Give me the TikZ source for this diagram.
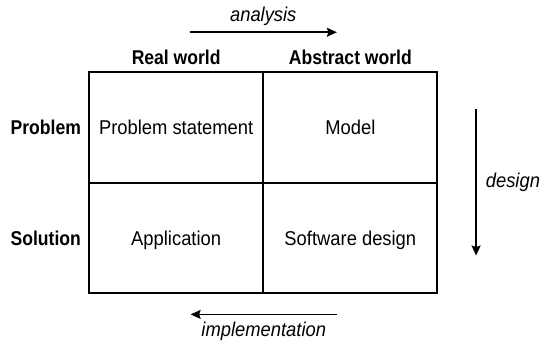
\documentclass[tikz,border=0pt]{standalone}
\usepackage{fontspec}
\setmainfont{Liberation Sans}[FakeStretch=0.92,BoldFeatures={FakeStretch=0.88}]
\usetikzlibrary{arrows.meta,positioning}

\newcommand\gridfont{\fontsize{20}{24}\selectfont}

\begin{document}
\begin{tikzpicture}[x=1pt,y=-1pt,node distance=111pt and 174.5pt,on grid,
  every node/.style={font=\gridfont,inner sep=0pt},
  cell/.style={draw,line width=2pt,minimum width=174.5pt,minimum height=111pt,text height=14.4pt,text depth=0pt},
  side/.style={anchor=east,font=\gridfont\bfseries,text height=14.4pt,text depth=0pt},
  colhead/.style={anchor=base,font=\gridfont\bfseries},
  flow/.style={-{Stealth[length=10pt,width=9pt,inset=1.5pt]},line width=1.6pt},
  flowtag/.style={font=\gridfont\itshape}]
\fill[white] (0,0) rectangle (540,336);
\node[cell] (stmt) at (176.5,127.5) {Problem statement};
\node[cell] (model) [right=of stmt] {Model};
\node[cell] (app) [below=of stmt] {Application};
\node[cell] (soft) [right=of app] {Software design};
\node[colhead] (real) at ([yshift=6.5pt]stmt.north) {Real world};
\node[colhead] (abstr) at ([yshift=6.5pt]model.north) {Abstract world};
\node[side] (prob) at ([xshift=-7pt]stmt.west) {Problem};
\node[side] (sol) at ([xshift=-7pt]app.west) {Solution};
\coordinate (an1) at (190,32.3);
\coordinate (an2) at (337.5,32.3);
\coordinate (ds1) at (477,109);
\coordinate (ds2) at (477,256);
\coordinate (im1) at (337.5,315);
\coordinate (im2) at (191,315);
\draw[flow] (an1) -- (an2) node[flowtag,midway,above=5.5pt] (anl) {analysis};
\draw[flow] (ds1) -- (ds2) node[flowtag,midway,right=9pt] (dsl) {design};
\draw[flow] (im1) -- (im2) node[flowtag,midway,below=7pt] (iml) {implementation};
\end{tikzpicture}
\end{document}
